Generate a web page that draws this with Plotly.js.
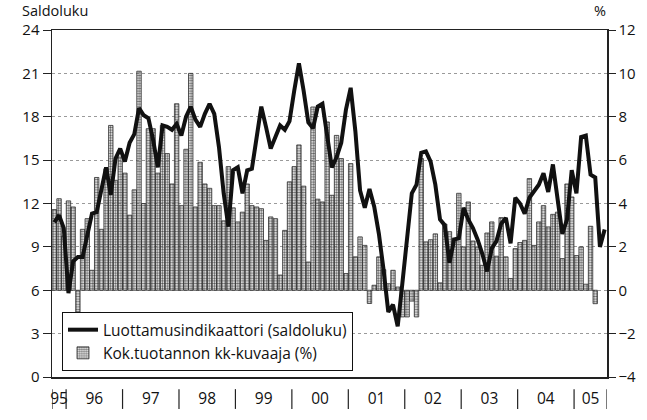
<!DOCTYPE html>
<html>
<head>
<meta charset="utf-8">
<script src="https://cdn.plot.ly/plotly-3.0.1.min.js"></script>
<style>html,body{margin:0;padding:0;background:#fff;}#chart{width:647px;height:420px;}</style>
</head>
<body>
<div id="chart"></div>
<script>
// Year labels and number of months shown for each year (Oct 1995 – Jul 2005)
const yearLabels = ['95','96','97','98','99','00','01','02','03','04','05'];
const monthsInYear = [3,12,12,12,12,12,12,12,12,12,7];

// Luottamusindikaattori (saldoluku), monthly, Oct 1995 – Jul 2005
const confidence = [
  10.7, 11.2, 10.3,
  5.8, 8.0, 8.3, 8.3, 9.8, 11.3, 11.4, 12.9, 14.5, 12.6, 15.1, 15.8,
  14.9, 16.2, 16.8, 18.6, 18.1, 17.9, 16.4, 14.5, 17.4, 17.3, 17.1, 17.5,
  16.7, 18.0, 18.7, 17.8, 17.3, 18.2, 18.9, 18.2, 15.9, 12.7, 10.4, 14.3,
  14.5, 12.7, 14.3, 14.4, 16.5, 18.7, 17.3, 15.8, 16.6, 17.4, 17.1, 17.7,
  19.8, 21.7, 19.8, 17.6, 17.2, 18.7, 18.9, 16.6, 14.5, 15.2, 16.2, 18.5,
  20.0, 17.0, 12.9, 11.7, 13.0, 11.8, 9.9, 7.4, 4.5, 5.0, 3.5, 6.5,
  9.9, 12.7, 13.3, 15.5, 15.6, 14.9, 13.3, 10.9, 10.5, 7.9, 9.5, 9.6,
  11.7, 10.9, 10.3, 9.5, 8.5, 7.3, 8.9, 9.4, 10.6, 11.0, 9.25, 12.4,
  12.0, 11.3, 12.4, 12.9, 13.3, 14.1, 12.8, 14.7, 12.2, 9.9, 10.9, 14.3,
  12.7, 16.6, 16.7, 14.0, 13.8, 9.0, 10.2
];

// Kok.tuotannon kk-kuvaaja (%), monthly, Oct 1995 – May 2005
const production = [
  3.72, 4.22, 2.5,
  4.12, 3.84, -1.0, 2.81, 3.3, 0.92, 5.2, 2.81, 5.6, 7.6, 5.07, 6.14,
  5.4, 3.46, 4.63, 10.1, 4.0, 7.45, 7.45, 5.4, 7.6, 6.3, 4.9, 8.6,
  3.9, 6.5, 10.0, 3.84, 5.9, 4.9, 4.7, 3.9, 3.9, 3.2, 5.7, 3.8,
  3.15, 3.6, 4.9, 3.9, 3.84, 3.76, 2.3, 3.38, 3.3, 0.7, 2.76, 5.0,
  5.7, 6.7, 4.8, 1.3, 8.45, 4.2, 4.07, 7.76, 4.38, 7.14, 6.07, 0.77,
  5.84, 1.54, 2.46, 2.07, -0.61, 0.23, 1.54, 0.95, 0.3, 0.92, 0.15, -1.23,
  -1.23, -0.5, -1.23, 6.07, 2.23, 2.33, 2.6, 0.34, 3.05, 2.7, 2.4, 4.47,
  2.0, 4.07, 2.27, 2.0, 1.15, 2.64, 3.15, 1.57, 3.35, 1.54, 0.54, 1.92,
  2.2, 2.3, 5.15, 2.07, 3.15, 3.9, 2.92, 3.5, 3.6, 1.46, 4.9, 4.3,
  1.6, 2.0, 0.28, 2.95, -0.62
];

const monthIdx = (n) => Array.from({length: n}, (_, i) => i);

// year tick centres and separators derived from monthsInYear
const tickVals = [];
const sepPos = [-0.5];
let start = 0;
monthsInYear.forEach((n) => {
  tickVals.push(start + (n - 1) / 2);
  start += n;
  sepPos.push(start - 0.5);
});
const totalMonths = start;

const FONT = '"Open Sans", "Noto Sans", Arial, sans-serif';

const barTrace = {
  type: 'bar',
  name: 'Kok.tuotannon kk-kuvaaja (%)',
  x: monthIdx(production.length),
  y: production,
  yaxis: 'y',
  marker: {
    color: '#c4c4c4',
    line: {color: '#2e2e2e', width: 0.8},
    pattern: {shape: '.', fgcolor: '#5a5a5a', size: 2.6, solidity: 0.5}
  },
  hoverinfo: 'skip'
};

const lineTrace = {
  type: 'scatter',
  mode: 'lines',
  name: 'Luottamusindikaattori (saldoluku)',
  x: monthIdx(confidence.length),
  y: confidence,
  yaxis: 'y2',
  line: {color: '#111111', width: 4},
  hoverinfo: 'skip'
};

const shapes = sepPos.map((p) => ({
  type: 'line', xref: 'x', yref: 'paper',
  x0: p, x1: p, y0: -0.035, y1: -0.092,
  line: {color: '#222', width: 1.2}
}));

const layout = {
  width: 647, height: 420,
  margin: {l: 52, r: 40, t: 30, b: 43, pad: 0},
  paper_bgcolor: '#ffffff',
  plot_bgcolor: '#ffffff',
  font: {family: FONT, size: 15, color: '#111'},
  bargap: 0.06,
  showlegend: true,
  legend: {
    x: 0.018, y: 0.187, xanchor: 'left', yanchor: 'top',
    bgcolor: '#ffffff', bordercolor: '#111', borderwidth: 1,
    traceorder: 'reversed', font: {family: FONT, size: 15.5, color: '#111'},
    tracegroupgap: 0, itemwidth: 30
  },
  xaxis: {
    range: [-0.5, totalMonths - 0.5],
    tickmode: 'array', tickvals: tickVals, ticktext: yearLabels,
    ticks: 'outside', ticklen: 7, tickcolor: 'rgba(0,0,0,0)',
    showgrid: false, zeroline: false,
    showline: true, linecolor: '#222', linewidth: 1.5, mirror: true,
    tickfont: {family: FONT, size: 15.5, color: '#111'}
  },
  // percent axis (right) – bars
  yaxis: {
    range: [-4, 12], dtick: 2, tick0: 0, side: 'right',
    ticks: 'outside', ticklen: 7, tickcolor: '#222',
    showline: true, linecolor: '#222', linewidth: 1.5,
    showgrid: true, gridcolor: '#9a9a9a', griddash: 'dot', gridwidth: 1,
    zeroline: false,
    tickfont: {family: FONT, size: 15, color: '#111'}
  },
  // saldoluku axis (left) – line
  yaxis2: {
    range: [0, 24], dtick: 3, tick0: 0, side: 'left', overlaying: 'y',
    ticks: 'outside', ticklen: 8, tickcolor: '#222',
    showline: true, linecolor: '#222', linewidth: 1.5,
    showgrid: false, zeroline: false,
    tickfont: {family: FONT, size: 15, color: '#111'}
  },
  shapes: shapes,
  annotations: [
    {text: 'Saldoluku', xref: 'paper', yref: 'paper', x: -0.056, y: 1.0865,
     xanchor: 'left', yanchor: 'top', showarrow: false, borderpad: 0,
     font: {family: FONT, size: 14.5, color: '#111'}},
    {text: '%', xref: 'paper', yref: 'paper', x: 1.0, y: 1.0865,
     xanchor: 'right', yanchor: 'top', showarrow: false, borderpad: 0,
     font: {family: FONT, size: 14.5, color: '#111'}}
  ]
};

Plotly.newPlot('chart', [barTrace, lineTrace], layout, {staticPlot: true, displayModeBar: false});
</script>
</body>
</html>
